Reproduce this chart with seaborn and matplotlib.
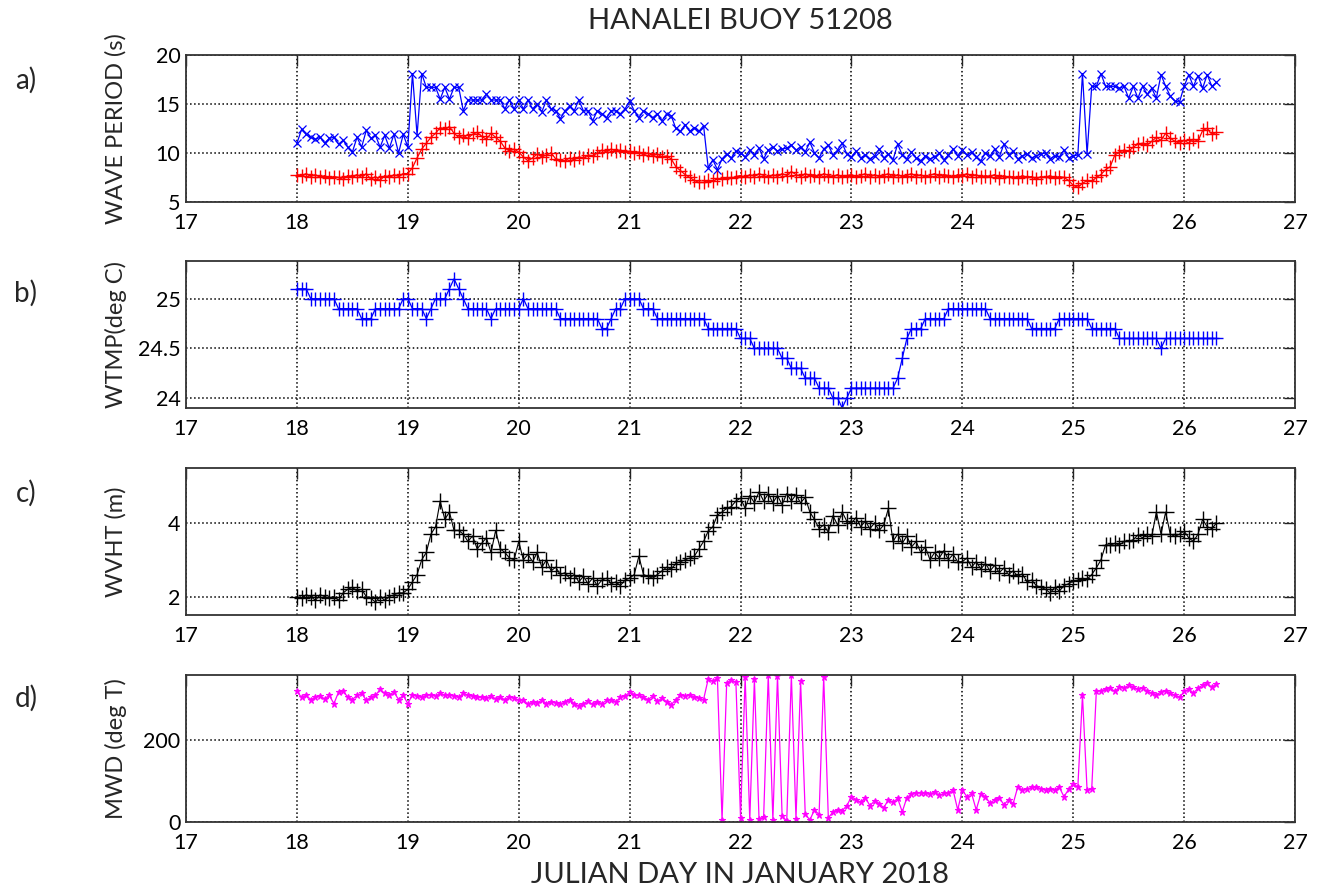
import numpy as np
import pandas as pd
import seaborn as sns
import matplotlib
matplotlib.use("Agg")
import matplotlib.pyplot as plt

# Hourly buoy samples starting Jan 18 00:00
peak_period = [
    11.0, 12.4, 11.9, 11.6, 11.4, 11.6, 11.0, 11.5, 11.6, 10.9, 11.3, 10.6, 10.1, 11.6, 10.6, 12.3, 11.5, 11.8, 10.6, 11.8, 10.5, 11.9, 10.0, 11.9,
    10.6, 18.1, 11.8, 18.1, 16.7, 16.7, 16.7, 15.5, 16.7, 15.5, 16.7, 16.7, 14.3, 15.4, 15.4, 15.4, 15.4, 16.0, 15.4, 15.4, 15.4, 14.5, 15.4, 14.5,
    15.4, 14.5, 15.4, 14.5, 15.0, 14.2, 15.4, 14.5, 14.3, 13.5, 14.3, 14.8, 14.3, 15.4, 14.3, 14.3, 13.3, 14.3, 14.0, 13.6, 14.3, 14.3, 14.0, 14.5,
    15.3, 14.3, 13.6, 14.3, 14.0, 13.6, 14.0, 13.3, 14.0, 13.8, 12.5, 12.2, 12.9, 12.2, 12.6, 12.2, 12.8, 8.5, 9.3, 8.3, 9.4, 9.9, 9.5, 10.2,
    10.0, 9.6, 10.3, 9.8, 10.5, 9.4, 10.3, 10.6, 10.2, 10.4, 10.5, 10.8, 10.3, 10.6, 10.1, 11.1, 10.0, 9.5, 10.4, 10.8, 9.8, 10.3, 11.0, 9.9,
    9.6, 10.2, 9.5, 9.8, 9.4, 9.7, 10.4, 9.5, 9.9, 9.3, 10.9, 9.8, 9.4, 10.1, 9.5, 9.2, 9.7, 9.4, 9.6, 10.0, 9.3, 9.8, 10.4, 9.7,
    10.3, 9.8, 10.1, 9.6, 9.2, 10.0, 9.7, 10.4, 9.6, 10.9, 9.8, 10.2, 9.4, 9.7, 9.9, 9.5, 9.7, 9.9, 10.0, 9.4, 9.7, 9.6, 10.3, 9.5,
    9.7, 9.8, 18.1, 9.9, 16.8, 16.8, 18.1, 16.8, 16.8, 16.8, 16.6, 16.8, 15.6, 16.8, 15.6, 16.8, 16.0, 16.6, 15.6, 18.0, 16.8, 15.8, 15.3, 15.2,
    16.8, 18.0, 16.8, 17.9, 16.6, 18.0, 16.8, 17.2,
]
mean_period = [
    7.8, 7.7, 7.9, 7.6, 7.8, 7.5, 7.7, 7.4, 7.6, 7.5, 7.3, 7.7, 7.6, 7.8, 7.5, 7.9, 7.3, 7.6, 7.2, 7.7, 7.5, 7.8, 7.6, 7.9,
    7.9, 8.5, 9.5, 10.4, 11.0, 11.6, 12.0, 12.6, 12.4, 12.7, 12.0, 11.6, 11.8, 11.5, 11.9, 12.1, 11.7, 11.4, 12.0, 11.6, 11.2, 10.5, 10.2, 10.4,
    10.1, 9.6, 9.2, 9.5, 9.9, 9.6, 9.8, 10.0, 9.4, 9.3, 9.2, 9.5, 9.3, 9.6, 9.5, 9.8, 9.7, 10.0, 10.3, 10.1, 10.4, 10.2, 10.3, 10.1,
    10.2, 10.0, 10.1, 9.8, 10.0, 9.7, 9.9, 9.6, 9.7, 9.4, 8.6, 8.2, 7.8, 7.5, 7.2, 7.0, 7.0, 7.2, 7.1, 7.4, 7.3, 7.5, 7.4, 7.6,
    7.7, 7.5, 7.8, 7.6, 7.9, 7.7, 7.5, 7.8, 7.6, 7.9, 7.7, 8.1, 7.8, 7.6, 7.9, 7.7, 7.8, 7.5, 7.9, 7.7, 7.6, 7.8, 7.5, 7.7,
    7.8, 7.6, 7.7, 7.9, 7.5, 7.8, 7.6, 7.7, 7.9, 7.5, 7.8, 7.6, 7.7, 7.9, 7.6, 7.8, 7.5, 7.7, 7.9, 7.6, 7.8, 7.7, 7.5, 7.8,
    7.7, 7.9, 7.6, 7.8, 7.5, 7.7, 7.6, 7.8, 7.4, 7.7, 7.5, 7.6, 7.4, 7.7, 7.5, 7.6, 7.3, 7.6, 7.5, 7.7, 7.4, 7.6, 7.5, 7.2,
    6.7, 6.5, 6.9, 7.2, 7.1, 7.5, 7.8, 8.3, 8.6, 9.8, 10.1, 10.3, 10.2, 10.6, 10.9, 11.0, 10.8, 11.2, 11.6, 11.3, 12.0, 11.5, 11.2, 11.0,
    11.3, 11.0, 11.4, 11.2, 12.3, 12.5, 11.9, 12.1,
]
water_temp = [
    25.1, 25.1, 25.1, 25.0, 25.0, 25.0, 25.0, 25.0, 25.0, 24.9, 24.9, 24.9, 24.9, 24.9, 24.8, 24.8, 24.8, 24.9, 24.9, 24.9, 24.9, 24.9, 24.9, 25.0,
    25.0, 24.9, 24.9, 24.9, 24.8, 24.9, 25.0, 25.0, 25.0, 25.1, 25.2, 25.1, 25.0, 24.9, 24.9, 24.9, 24.9, 24.9, 24.8, 24.9, 24.9, 24.9, 24.9, 24.9,
    24.9, 25.0, 24.9, 24.9, 24.9, 24.9, 24.9, 24.9, 24.9, 24.8, 24.8, 24.8, 24.8, 24.8, 24.8, 24.8, 24.8, 24.8, 24.7, 24.7, 24.8, 24.9, 24.9, 25.0,
    25.0, 25.0, 25.0, 24.9, 24.9, 24.9, 24.8, 24.8, 24.8, 24.8, 24.8, 24.8, 24.8, 24.8, 24.8, 24.8, 24.8, 24.7, 24.7, 24.7, 24.7, 24.7, 24.7, 24.7,
    24.6, 24.6, 24.6, 24.5, 24.5, 24.5, 24.5, 24.5, 24.5, 24.4, 24.4, 24.3, 24.3, 24.3, 24.2, 24.2, 24.2, 24.1, 24.1, 24.1, 24.0, 24.0, 23.9, 24.0,
    24.1, 24.1, 24.1, 24.1, 24.1, 24.1, 24.1, 24.1, 24.1, 24.1, 24.2, 24.4, 24.6, 24.7, 24.7, 24.7, 24.8, 24.8, 24.8, 24.8, 24.8, 24.9, 24.9, 24.9,
    24.9, 24.9, 24.9, 24.9, 24.9, 24.9, 24.8, 24.8, 24.8, 24.8, 24.8, 24.8, 24.8, 24.8, 24.8, 24.7, 24.7, 24.7, 24.7, 24.7, 24.7, 24.8, 24.8, 24.8,
    24.8, 24.8, 24.8, 24.8, 24.7, 24.7, 24.7, 24.7, 24.7, 24.7, 24.6, 24.6, 24.6, 24.6, 24.6, 24.6, 24.6, 24.6, 24.6, 24.5, 24.6, 24.6, 24.6, 24.6,
    24.6, 24.6, 24.6, 24.6, 24.6, 24.6, 24.6, 24.6,
]
wave_height = [
    2.0, 1.95, 2.05, 2.0, 1.9, 2.05, 2.0, 1.95, 2.0, 1.9, 2.1, 2.2, 2.25, 2.15, 2.2, 2.0, 1.95, 1.85, 2.0, 1.9, 2.0, 2.05, 2.1, 2.1,
    2.2, 2.4, 2.6, 3.0, 3.2, 3.7, 3.9, 4.6, 4.1, 4.3, 3.8, 3.8, 3.7, 3.5, 3.65, 3.3, 3.45, 3.6, 3.2, 3.8, 3.3, 3.2, 3.05, 3.0,
    3.5, 3.0, 3.15, 2.95, 3.2, 2.8, 3.0, 2.7, 2.8, 2.6, 2.65, 2.5, 2.6, 2.4, 2.55, 2.35, 2.5, 2.3, 2.45, 2.5, 2.35, 2.4, 2.3, 2.45,
    2.5, 2.6, 3.1, 2.6, 2.55, 2.5, 2.6, 2.7, 2.8, 2.75, 2.9, 2.95, 3.0, 3.05, 3.1, 3.3, 3.5, 3.78, 3.9, 4.22, 4.3, 4.4, 4.45, 4.6,
    4.68, 4.4, 4.75, 4.55, 4.85, 4.6, 4.8, 4.55, 4.75, 4.5, 4.8, 4.6, 4.77, 4.55, 4.7, 4.3, 4.1, 3.85, 3.95, 3.75, 4.2, 3.95, 4.3, 4.05,
    4.0, 4.15, 3.9, 4.05, 3.85, 4.0, 3.8, 3.95, 4.4, 3.5, 3.7, 3.45, 3.65, 3.35, 3.5, 3.2, 3.35, 3.0, 3.2, 3.05, 3.25, 3.0, 3.15, 2.95,
    2.95, 3.05, 2.8, 2.95, 2.75, 2.9, 2.7, 2.85, 2.65, 2.78, 2.6, 2.7, 2.55, 2.62, 2.4, 2.45, 2.3, 2.25, 2.2, 2.1, 2.25, 2.15, 2.3, 2.35,
    2.42, 2.45, 2.5, 2.47, 2.6, 2.78, 3.0, 3.41, 3.4, 3.45, 3.4, 3.5, 3.5, 3.55, 3.68, 3.6, 3.7, 3.65, 4.3, 3.7, 4.3, 3.7, 3.64, 3.7,
    3.78, 3.6, 3.5, 3.7, 4.1, 3.9, 3.85, 4.0,
]
wave_dir = [
    320, 305, 310, 300, 305, 308, 302, 310, 290, 318, 322, 305, 300, 310, 315, 298, 305, 310, 325, 315, 312, 318, 300, 310,
    290, 312, 308, 305, 310, 312, 308, 315, 310, 312, 308, 305, 315, 310, 308, 305, 306, 304, 308, 302, 305, 300, 306, 303,
    298, 300, 288, 295, 292, 298, 290, 295, 292, 288, 295, 300, 290, 284, 290, 296, 288, 295, 290, 298, 300, 295, 305, 308,
    318, 312, 310, 305, 300, 308, 296, 303, 295, 287, 300, 310, 308, 311, 305, 303, 300, 350, 345, 352, 5, 340, 348, 342,
    10, 355, 5, 350, 8, 12, 360, 5, 358, 15, 3, 360, 8, 345, 20, 5, 30, 18, 355, 10, 25, 30, 28, 40,
    62, 55, 48, 60, 40, 52, 45, 35, 55, 48, 58, 25, 60, 68, 70, 72, 70, 68, 74, 65, 70, 72, 78, 30,
    78, 62, 70, 30, 68, 62, 46, 55, 60, 42, 55, 45, 86, 78, 80, 85, 86, 82, 78, 80, 78, 85, 62, 80,
    94, 86, 310, 78, 80, 320, 322, 325, 328, 320, 330, 328, 335, 330, 325, 328, 320, 315, 312, 318, 322, 315, 310, 305,
    320, 325, 315, 328, 335, 340, 330, 338,
]

start_day = 18.0
x_ticks = list(range(17, 28))


def julian(values):
    return start_day + np.arange(len(values)) / 24.0


sns.set_style("white")
plt.rcParams["font.family"] = ["Lato", "DejaVu Sans"]

fig = plt.figure(figsize=(13.27, 8.91), dpi=100)
left, width, height = 0.1402, 0.8357, 0.165
bottoms = [0.7733, 0.5421, 0.3098, 0.0774]
axes = [fig.add_axes([left, b, width, height]) for b in bottoms]

# a) wave periods
ax = axes[0]
sns.lineplot(x=julian(peak_period), y=peak_period, ax=ax, color="#0000ff", lw=0.9,
             marker="x", ms=6, mec="#0000ff", mew=0.9)
sns.lineplot(x=julian(mean_period), y=mean_period, ax=ax, color="#ff0000", lw=0.9,
             marker="+", ms=10, mec="#ff0000", mew=1.0)
ax.set_ylim(5, 20)
ax.set_yticks([5, 10, 15, 20])

# b) water temperature
ax = axes[1]
sns.lineplot(x=julian(water_temp), y=water_temp, ax=ax, color="#0000ff", lw=0.9,
             marker="+", ms=10, mec="#0000ff", mew=1.0)
ax.set_ylim(23.9, 25.38)
ax.set_yticks([24, 24.5, 25])
ax.set_yticklabels(["24", "24.5", "25"])

# c) significant wave height
ax = axes[2]
sns.lineplot(x=julian(wave_height), y=wave_height, ax=ax, color="black", lw=0.8,
             marker="+", ms=11, mec="black", mew=1.0)
ax.set_ylim(1.5, 5.5)
ax.set_yticks([2, 4])

# d) mean wave direction
ax = axes[3]
sns.lineplot(x=julian(wave_dir), y=wave_dir, ax=ax, color="#ff00ff", lw=0.9,
             marker="*", ms=5, mec="#ff00ff", mfc="#ff00ff", mew=0.8)
ax.set_ylim(0, 360)
ax.set_yticks([0, 200])

ylabels = ["WAVE PERIOD (s)", "WTMP(deg C)", "WVHT (m)", "MWD (deg T)"]
panel_tags = ["a)", "b)", "c)", "d)"]
tag_y = [80, 293, 493, 698]

for ax, lab, tag, ty in zip(axes, ylabels, panel_tags, tag_y):
    ax.set_xlim(17, 27)
    ax.set_xticks(x_ticks)
    ax.set_xlabel("")
    ax.set_ylabel("")
    ax.grid(True, linestyle=":", color="black", linewidth=1.1)
    ax.tick_params(direction="in", top=True, right=True, length=8, width=1.0,
                   labelsize=15.5, pad=4, colors="#222222", labelcolor="black")
    ax.tick_params(axis="x", pad=8)
    for sp in ax.spines.values():
        sp.set_color("#333333")
        sp.set_linewidth(1.3)
    pos = ax.get_position()
    fig.text(116 / 1327, (pos.y0 + pos.y1) / 2, lab, rotation=90,
             ha="center", va="center", fontsize=17)
    fig.text(26 / 1327, 1 - ty / 891, tag, ha="center", va="center", fontsize=20)

fig.text(740 / 1327, 1 - 21 / 891, "HANALEI BUOY 51208", ha="center", va="center", fontsize=21)
fig.text(740 / 1327, 1 - 875 / 891, "JULIAN DAY IN JANUARY 2018", ha="center", va="center", fontsize=21)

fig.savefig("out.png", dpi=100)
